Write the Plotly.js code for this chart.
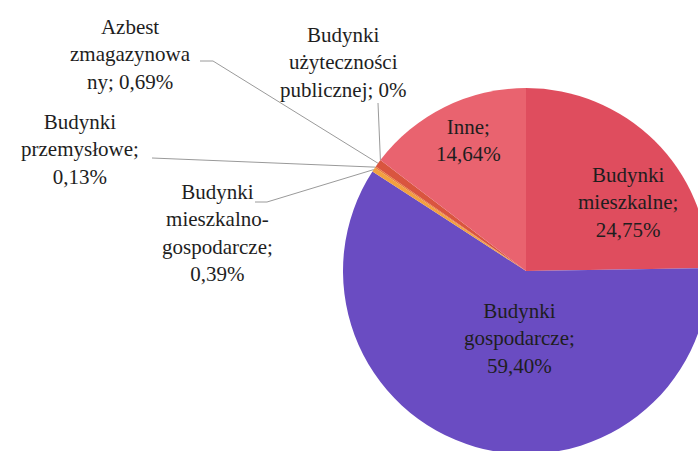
<!DOCTYPE html>
<html><head><meta charset="utf-8">
<script src="https://cdn.plot.ly/plotly-3.0.1.min.js"></script>
<style>html,body{margin:0;padding:0;overflow:hidden;background:#fff;width:698px;height:451px}#chart{width:740px;height:480px}</style>
</head><body><div id="chart"></div>
<script>
// ---- data ----
const categories = ["Budynki mieszkalne","Budynki gospodarcze","Budynki mieszkalno-gospodarcze","Budynki przemysłowe","Azbest zmagazynowany","Budynki użyteczności publicznej","Inne"];
const values = [24.75, 59.40, 0.39, 0.13, 0.69, 0, 14.64];
const labelHeads = ["Budynki<br>mieszkalne;<br>", "Budynki<br>gospodarcze;<br>", "Budynki<br>mieszkalno-<br>gospodarcze;<br>", "Budynki<br>przemysłowe;<br>", "Azbest<br>zmagazynowa<br>ny; ", "Budynki<br>użyteczności<br>publicznej; ", "Inne;<br>"];
const colors = ["#df4d5e","#6a4cc2","#f2a040","#ea7c3a","#d9553f","#e05a5a","#e9636f"];

// ---- layout (pixels) ----
const W = 740, H = 480;
const pie = {left: 343, top: 88, size: 366};
const labelPos = [[628,202],[519,338],[217,233],[80,149],[130,54],[343,63],[468,141]];
const leaderStart = {2: [[255,202],[267,202]], 3: [[152,158]], 4: [[200,61],[213,61]], 5: [[378,103]]};

const fmt = v => (v === 0 ? "0" : v.toFixed(2).replace(".", ",")) + "%";
const px = x => x / W, py = y => 1 - y / H;

const cx = pie.left + pie.size/2, cy = pie.top + pie.size/2, r = pie.size/2;
const total = values.reduce((a,b)=>a+b,0);
let cum = 0;
const mids = values.map(v => { const m = cum + v/2; cum += v; return m/total*2*Math.PI; });

const FAMILY = "'Liberation Serif', 'DejaVu Serif', serif";
const annotations = categories.map((c,i) => ({
  text: labelHeads[i] + fmt(values[i]),
  x: px(labelPos[i][0]), y: py(labelPos[i][1]), xref: "paper", yref: "paper",
  xanchor: "center", yanchor: "middle", showarrow: false, align: "center",
  font: {family: FAMILY, size: 21, color: "#1e1e1e"}
}));

const shapes = Object.keys(leaderStart).map(k => {
  const i = +k;
  const ax = cx + r*Math.sin(mids[i]), ay = cy - r*Math.cos(mids[i]);
  const pts = leaderStart[k].concat([[ax, ay]]);
  const d = pts.map((p,j) => (j===0?"M":"L") + px(p[0]) + "," + py(p[1])).join(" ");
  return {type: "path", xref: "paper", yref: "paper", path: d, line: {color: "#9a9a9a", width: 1}};
});

Plotly.newPlot("chart", [{
  type: "pie", labels: categories, values: values, sort: false, direction: "clockwise", rotation: 0,
  marker: {colors: colors, line: {width: 0}}, textinfo: "none", hoverinfo: "label+percent", showlegend: false,
  domain: {x: [px(pie.left), px(pie.left+pie.size)], y: [py(pie.top+pie.size), py(pie.top)]}
}], {
  width: W, height: H, margin: {l:0,r:0,t:0,b:0}, paper_bgcolor: "#fff", plot_bgcolor: "#fff",
  font: {family: FAMILY},
  showlegend: false, annotations: annotations, shapes: shapes
}, {displayModeBar: false, staticPlot: true});
</script></body></html>
